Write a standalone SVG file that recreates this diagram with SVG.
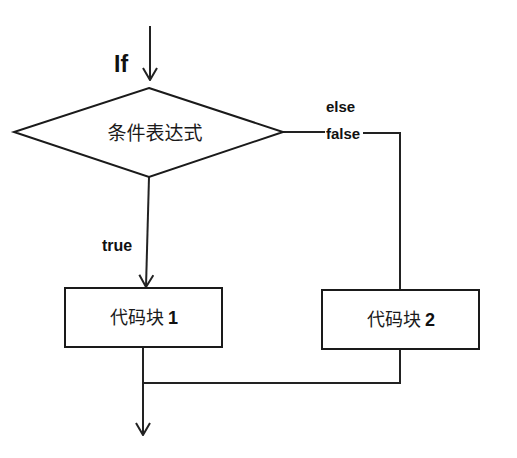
<svg xmlns="http://www.w3.org/2000/svg" width="517" height="458" viewBox="0 0 517 458">
<style>
.shape{fill:#fff;stroke:#1a1a1a;stroke-width:2}
.line{fill:none;stroke:#222;stroke-width:2}
.cjk{font-family:"Noto Sans CJK SC","Noto Sans",sans-serif;fill:#1a1a1a}
.lbl{font-family:"Liberation Sans",Arial,sans-serif;font-weight:bold;fill:#111}
</style>
<defs>
<marker id="arr" markerWidth="14" markerHeight="16" refX="13" refY="8" orient="auto" markerUnits="userSpaceOnUse" viewBox="0 0 14 16">
<path d="M1,1 L13,8 L1,15" fill="none" stroke="#222" stroke-width="2"/>
</marker>
</defs>
<rect width="517" height="458" fill="#fff"/>
<g id="connectors">
<line class="line" x1="150" y1="26" x2="150" y2="80" marker-end="url(#arr)"/>
<line class="line" x1="149" y1="177" x2="146" y2="287" marker-end="url(#arr)"/>
<line class="line" x1="283" y1="132" x2="325" y2="132"/>
<polyline class="line" points="363,133 400,133 400,290"/>
<line class="line" x1="143" y1="347" x2="143" y2="435" marker-end="url(#arr)"/>
<polyline class="line" points="400,349 400,383 143,383"/>
</g>
<g id="label-if"><text class="lbl" x="114" y="72" font-size="23">If</text></g>
<g id="cond">
<polygon class="shape" points="149,88 283,132 149,177 14,132"/>
<text class="cjk" x="155" y="140" font-size="19" text-anchor="middle">条件表达式</text>
</g>
<g id="label-else"><text class="lbl" x="326" y="112" font-size="15">else</text></g>
<g id="label-false"><text class="lbl" x="326" y="139" font-size="15">false</text></g>
<g id="label-true"><text class="lbl" x="102" y="251" font-size="16">true</text></g>
<g id="block1">
<rect class="shape" x="65" y="288" width="157" height="59"/>
<text class="cjk" x="144" y="324" font-size="18" text-anchor="middle">代码块 <tspan class="lbl">1</tspan></text>
</g>
<g id="block2">
<rect class="shape" x="322" y="290" width="157" height="59"/>
<text class="cjk" x="401" y="326" font-size="18" text-anchor="middle">代码块 <tspan class="lbl">2</tspan></text>
</g>
</svg>
